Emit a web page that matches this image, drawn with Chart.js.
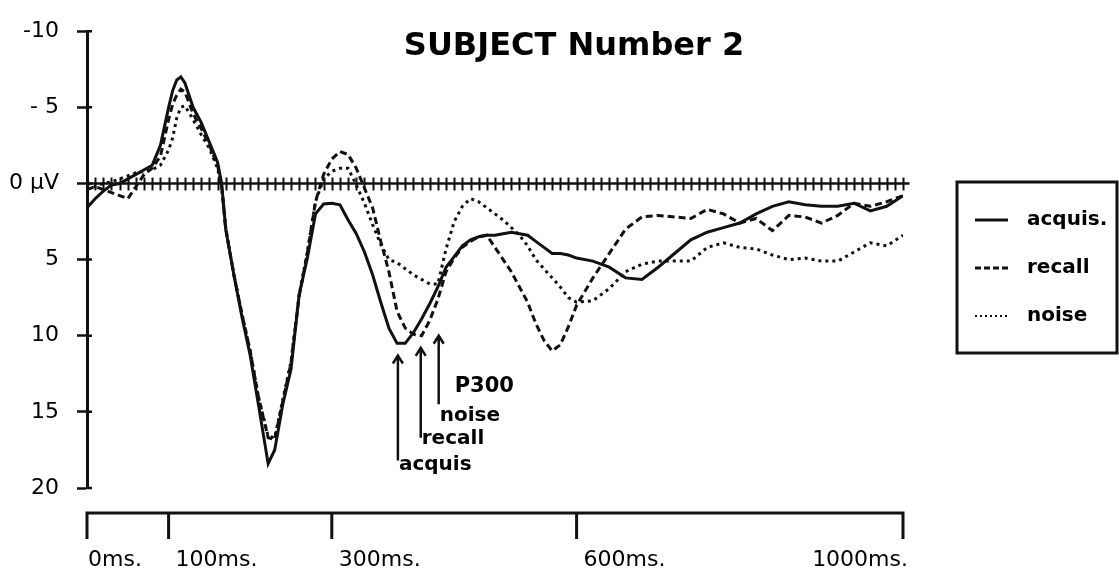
<!DOCTYPE html>
<html>
<head>
<meta charset="utf-8">
<title>SUBJECT Number 2</title>
<script src="https://cdn.jsdelivr.net/npm/chart.js@4.4.1/dist/chart.umd.min.js"></script>
<style>
  html, body { margin: 0; padding: 0; background: #fff; }
  #wrap { width: 1119px; height: 583px; }
</style>
</head>
<body>
<div id="wrap"><canvas id="erp" width="1119" height="583"></canvas></div>
<script>
// time base (ms) shared by the three averaged waveforms
const timeMs = [0, 10, 20, 30, 40, 50, 60, 70, 80, 90, 100, 105, 110, 115, 120,
  130, 140, 150, 160, 165, 170, 180, 190, 200, 210, 222,
  230, 240, 250, 260, 270, 280, 290, 300, 310, 320, 330, 340, 350, 360, 370, 380, 390,
  400, 410, 420, 430, 440, 450, 460, 470, 480, 490, 500, 510, 520, 530, 540, 550, 560,
  570, 580, 590, 600, 620, 640, 660, 680, 700, 720, 740, 760, 780, 800, 820, 840, 860,
  880, 900, 920, 940, 960, 980, 1000];

// µV, positive is drawn downwards
const acquisUv = [1.6, 1.0, 0.5, 0.1, 0.0, -0.3, -0.6, -0.9, -1.2, -2.5, -5.0, -6.1, -6.8, -7.0, -6.6,
  -5.0, -4.0, -2.7, -1.4, 0.0, 3.0, 6.0, 8.8, 11.3, 14.5, 18.4,
  17.5, 14.5, 12.2, 7.3, 4.9, 2.0, 1.35, 1.3, 1.4, 2.4, 3.3, 4.5, 6.0, 7.8, 9.5, 10.5, 10.5,
  9.8, 8.9, 7.9, 6.8, 5.5, 4.8, 4.1, 3.7, 3.5, 3.4, 3.4, 3.3, 3.2, 3.3, 3.4, 3.8, 4.2,
  4.6, 4.6, 4.7, 4.9, 5.1, 5.5, 6.2, 6.3, 5.5, 4.6, 3.7, 3.2, 2.9, 2.6, 2.0, 1.5, 1.2,
  1.4, 1.5, 1.5, 1.3, 1.8, 1.5, 0.8];

const recallUv = [0.4, 0.2, 0.4, 0.6, 0.8, 1.0, 0.2, -0.6, -1.0, -1.8, -4.2, -5.2, -5.8, -6.2, -6.0,
  -4.6, -3.6, -2.5, -1.2, 0.2, 3.0, 6.0, 8.6, 11.0, 14.0, 16.7,
  16.8, 14.3, 11.8, 7.4, 4.6, 1.2, -0.6, -1.6, -2.1, -1.9, -1.0, 0.3, 1.6, 3.8, 5.8, 8.4, 9.5,
  9.9, 10.0, 9.0, 7.6, 5.8, 4.9, 4.2, 3.8, 3.5, 3.4, 4.2, 5.0, 5.8, 6.8, 7.8, 9.2, 10.3,
  11.0, 10.6, 9.4, 8.0, 6.2, 4.6, 3.0, 2.2, 2.1, 2.2, 2.3, 1.7, 2.0, 2.6, 2.3, 3.1, 2.1,
  2.2, 2.6, 2.1, 1.3, 1.5, 1.2, 0.8];

const noiseUv = [0.0, 0.2, 0.0, -0.1, -0.3, -0.5, -0.7, -0.8, -0.9, -1.2, -2.2, -3.0, -4.3, -5.0, -5.1,
  -4.2, -3.2, -2.3, -1.0, 0.2, 2.9, 6.0, 8.6, 11.0, 14.0, 16.6,
  16.7, 14.2, 11.7, 7.3, 4.5, 1.2, -0.3, -0.8, -1.0, -1.0, 0.1, 1.3, 2.7, 4.0, 5.0, 5.2, 5.6,
  6.0, 6.3, 6.6, 6.6, 4.3, 2.5, 1.5, 1.0, 1.2, 1.6, 2.0, 2.4, 2.9, 3.4, 4.1, 5.0, 5.6,
  6.2, 6.8, 7.5, 7.8, 7.7, 6.9, 5.8, 5.3, 5.1, 5.1, 5.1, 4.2, 3.9, 4.2, 4.3, 4.7, 5.0,
  4.9, 5.1, 5.1, 4.5, 3.9, 4.1, 3.4];

const seriesNames = ['acquis.', 'recall', 'noise'];

const xTickValues = [0, 100, 300, 600, 1000];
const xTickLabels = ['0ms.', '100ms.', '300ms.', '600ms.', '1000ms.'];

const yTickValues = [-10, -5, 0, 5, 10, 15, 20];
const yTickLabels = ['-10', '- 5', '0 \u00b5V', '5', '10', '15', '20'];

// P300 markers: latency, arrow tip, arrow tail, label baseline
const p300Names = ['acquis', 'recall', 'noise'];
const p300Ms = [381, 409, 431];
const p300TipUv = [11.3, 10.8, 10.0];
const p300TailUv = [18.2, 16.7, 14.5];
const p300LabelUv = [18.8, 17.1, 15.6];

const FONT = "'DejaVu Sans', sans-serif";
const INK = '#111';

function toPoints(values) {
  return timeMs.map((t, i) => ({ x: t, y: values[i] }));
}

const erpDecor = {
  id: 'erpDecor',
  beforeDatasetsDraw(chart) {
    const { ctx, chartArea, scales } = chart;
    const xs = scales.x, ys = scales.y;
    const y0 = ys.getPixelForValue(0);
    ctx.save();
    ctx.strokeStyle = INK;
    // hatched zero line
    ctx.lineWidth = 2.5;
    ctx.beginPath();
    ctx.moveTo(xs.getPixelForValue(0), y0);
    ctx.lineTo(xs.getPixelForValue(1008), y0);
    ctx.stroke();
    ctx.lineWidth = 2;
    ctx.beginPath();
    for (let ms = 0; ms <= 1005; ms += 10) {
      const x = Math.round(xs.getPixelForValue(ms)) + 0.5;
      ctx.moveTo(x, y0 - 6);
      ctx.lineTo(x, y0 + 7);
    }
    ctx.stroke();
    // short inner stubs of the y ticks
    ctx.lineWidth = 2.5;
    ctx.beginPath();
    yTickValues.forEach(v => {
      const y = ys.getPixelForValue(v);
      ctx.moveTo(chartArea.left, y);
      ctx.lineTo(chartArea.left + 5, y);
    });
    ctx.stroke();
    ctx.restore();
  },
  afterDraw(chart) {
    const { ctx, chartArea, scales } = chart;
    const xs = scales.x, ys = scales.y;
    ctx.save();
    ctx.fillStyle = '#000';
    ctx.strokeStyle = INK;

    // title
    ctx.font = 'bold 32px ' + FONT;
    ctx.textAlign = 'center';
    ctx.textBaseline = 'alphabetic';
    ctx.fillText('SUBJECT Number 2', 574, 55);

    // detached time axis
    const ay = chartArea.bottom + 25;
    ctx.lineWidth = 3;
    ctx.beginPath();
    ctx.moveTo(xs.getPixelForValue(0), ay);
    ctx.lineTo(xs.getPixelForValue(1000), ay);
    xTickValues.forEach(v => {
      const x = xs.getPixelForValue(v);
      ctx.moveTo(x, ay - 1.5);
      ctx.lineTo(x, ay + 26);
    });
    ctx.stroke();
    ctx.font = '22px ' + FONT;
    xTickValues.forEach((v, i) => {
      const x = xs.getPixelForValue(v);
      const last = i === xTickValues.length - 1;
      ctx.textAlign = last ? 'right' : 'left';
      ctx.fillText(xTickLabels[i], last ? x + 5 : x + (i === 0 ? 1 : 7), ay + 53);
    });

    // P300 arrows
    ctx.lineWidth = 2.5;
    ctx.font = 'bold 20px ' + FONT;
    ctx.textAlign = 'left';
    p300Ms.forEach((ms, i) => {
      const x = xs.getPixelForValue(ms);
      const tip = ys.getPixelForValue(p300TipUv[i]);
      const tail = ys.getPixelForValue(p300TailUv[i]);
      ctx.beginPath();
      ctx.moveTo(x, tip);
      ctx.lineTo(x, tail);
      ctx.moveTo(x - 5, tip + 8);
      ctx.lineTo(x, tip);
      ctx.lineTo(x + 5, tip + 8);
      ctx.stroke();
      ctx.fillText(p300Names[i], x + 1, ys.getPixelForValue(p300LabelUv[i]));
    });
    ctx.font = 'bold 21px ' + FONT;
    ctx.fillText('P300', xs.getPixelForValue(p300Ms[2]) + 16, ys.getPixelForValue(13.7));

    // legend box
    const lx = chartArea.right + 54, ly = 182;
    ctx.lineWidth = 3;
    ctx.strokeRect(lx, ly, 160, 171);
    ctx.font = 'bold 20px ' + FONT;
    ctx.textBaseline = 'middle';
    chart.data.datasets.forEach((ds, i) => {
      const ry = ly + 38 + i * 48;
      ctx.save();
      ctx.lineWidth = i === 2 ? 2 : 3;
      ctx.setLineDash(i === 0 ? [] : (i === 1 ? [6, 3] : [2, 3]));
      ctx.beginPath();
      ctx.moveTo(lx + 18, ry);
      ctx.lineTo(lx + 51, ry);
      ctx.stroke();
      ctx.restore();
      ctx.fillText(ds.label, lx + 70, ry);
    });
    ctx.restore();
  }
};

new Chart(document.getElementById('erp'), {
  type: 'line',
  data: {
    datasets: [
      { label: seriesNames[0], data: toPoints(acquisUv), borderColor: INK, borderWidth: 3 },
      { label: seriesNames[1], data: toPoints(recallUv), borderColor: INK, borderWidth: 3, borderDash: [7, 4] },
      { label: seriesNames[2], data: toPoints(noiseUv), borderColor: INK, borderWidth: 3, borderDash: [3, 4] }
    ]
  },
  options: {
    responsive: false,
    devicePixelRatio: 1,
    animation: false,
    events: [],
    elements: { point: { radius: 0 }, line: { tension: 0, borderCapStyle: 'butt' } },
    layout: { padding: { top: 21, right: 216, left: 0, bottom: 0 } },
    plugins: { legend: { display: false }, tooltip: { enabled: false }, title: { display: false } },
    scales: {
      x: {
        type: 'linear', min: 0, max: 1000,
        grid: { display: false },
        border: { display: false },
        ticks: { display: false },
        afterFit(scale) { scale.height = 95; }
      },
      y: {
        reverse: true, min: -10, max: 20,
        border: { display: true, color: INK, width: 3 },
        grid: { drawOnChartArea: false, drawTicks: true, tickLength: 10, color: INK, tickWidth: 2.5 },
        ticks: {
          stepSize: 5, padding: 18, color: '#000',
          font: { family: FONT, size: 22 },
          callback: v => { const k = yTickValues.indexOf(v); return k < 0 ? '' : yTickLabels[k]; }
        },
        afterFit(scale) { scale.width = 87; }
      }
    }
  },
  plugins: [erpDecor]
});
</script>
</body>
</html>
